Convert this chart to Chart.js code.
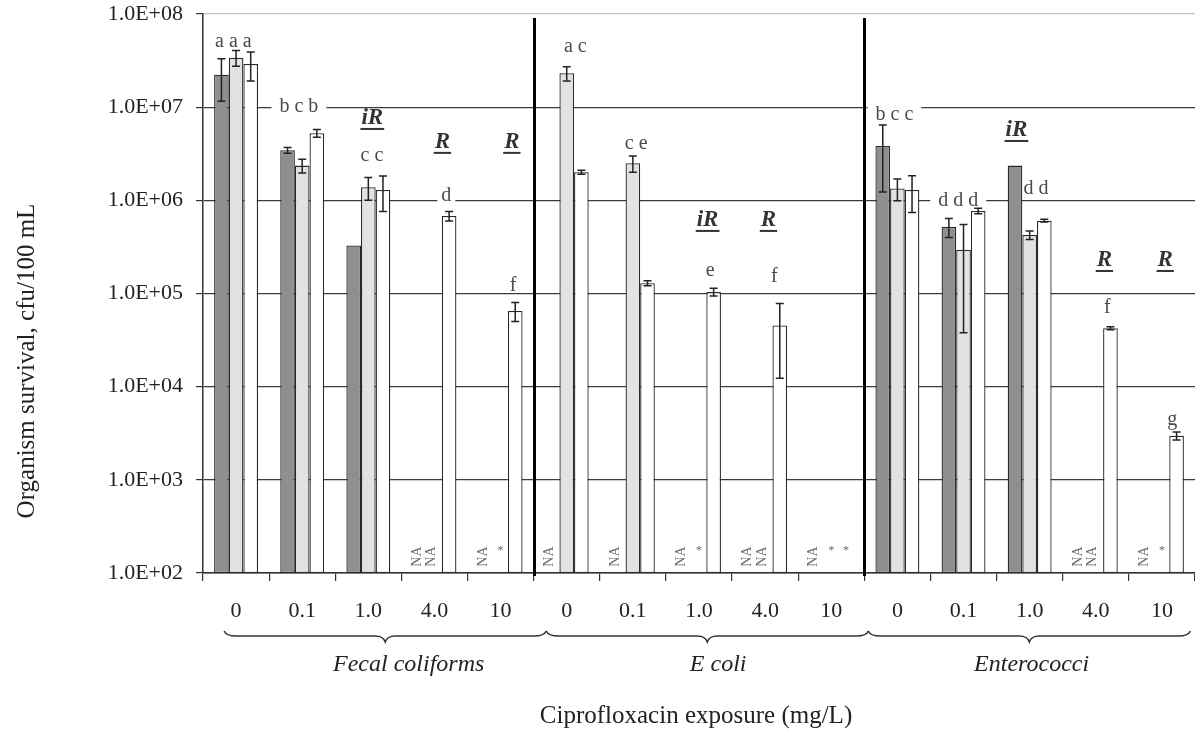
<!DOCTYPE html>
<html><head><meta charset="utf-8">
<script src="https://cdn.jsdelivr.net/npm/chart.js@4.4.1/dist/chart.umd.min.js"></script>
<style>html,body{margin:0;padding:0;background:#fff}#wrap{width:1195px;height:730px;position:relative}</style>
</head><body><div id="wrap"><canvas id="c"></canvas></div>
<script>
// ---- data ----
const categories = ['0','0.1','1.0','4.0','10','0','0.1','1.0','4.0','10','0','0.1','1.0','4.0','10'];
const groupNames = ['Fecal coliforms','E coli','Enterococci'];
const groupCenters = [2.61, 7.29, 12.03];            // category units
const braceRanges = [[-0.18, 4.69],[4.69, 9.56],[9.56, 14.43]];
const yTickValues = [1e2,1e3,1e4,1e5,1e6,1e7,1e8];

const seriesDark  = [2.23e7, 3.45e6, 3.27e5, null, null, null, null, null, null, null, 3.83e6, 5.19e5, 2.36e6, null, null];
const seriesLight = [3.40e7, 2.36e6, 1.38e6, null, null, 2.31e7, 2.50e6, null, null, null, 1.34e6, 2.95e5, 4.25e5, null, null];
const seriesWhite = [2.91e7, 5.25e6, 1.29e6, 6.8e5, 6.5e4, 2.0e6, 1.29e5, 1.04e5, 4.53e4, null, 1.29e6, 7.7e5, 6.05e5, 4.24e4, 2.97e3];

const errDark  = [1.07e7, 2.5e5, null, null, null, null, null, null, null, null, 2.6e6, 1.2e5, null, null, null];
const errLight = [6.5e6, 4.0e5, 3.8e5, null, null, 4.0e6, 5.0e5, null, null, null, 3.5e5, 2.57e5, 4.5e4, null, null];
const errWhite = [1.0e7, 5.0e5, 5.3e5, 8.0e4, 1.5e4, 1.0e5, 8.0e3, 1.0e4, 3.3e4, null, 5.5e5, 5.0e4, 2.0e4, 1.5e3, 3.0e2];

// NA / * markers: [category, bar index, text]
const naMarks = [[3,0,'NA'],[3,1,'NA'],[4,0,'NA'],[4,1,'*'],
                 [5,0,'NA'],[6,0,'NA'],[7,0,'NA'],[7,1,'*'],[8,0,'NA'],[8,1,'NA'],[9,0,'NA'],[9,1,'*'],[9,2,'*'],
                 [13,0,'NA'],[13,1,'NA'],[14,0,'NA'],[14,1,'*']];

// significance letters: [category + offset, y value, text, white background]
const letterNotes = [
  [-0.04, 5.0e7, 'a a a', false],
  [0.95, 1.0e7, 'b c b', true],
  [2.055, 3.0e6, 'c c', false],
  [3.18, 1.11e6, 'd', true],
  [4.19, 1.21e5, 'f', false],
  [5.13, 4.43e7, 'a c', false],
  [6.05, 4.03e6, 'c e', false],
  [7.17, 1.75e5, 'e', false],
  [8.14, 1.51e5, 'f', false],
  [9.955, 8.25e6, 'b c c', true],
  [10.92, 9.86e5, 'd d d', true],
  [12.095, 1.33e6, 'd d', false],
  [13.175, 7.0e4, 'f', false],
  [14.155, 4.4e3, 'g', false]
];
// resistance marks: [category + offset, y value, text]
const resistNotes = [
  [2.06, 7.66e6, 'iR'], [3.12, 4.24e6, 'R'], [4.17, 4.24e6, 'R'],
  [7.13, 6.16e5, 'iR'], [8.05, 6.16e5, 'R'],
  [11.8, 5.69e6, 'iR'], [13.13, 2.29e5, 'R'], [14.05, 2.29e5, 'R']
];

const SERIF = '"Liberation Serif", "DejaVu Serif", serif';
const CAT_PCT = 0.664;

function barX(chart, cat, bi) {
  const xs = chart.scales.x;
  const w = (xs.getPixelForValue(1) - xs.getPixelForValue(0)) * CAT_PCT / 3;
  return xs.getPixelForValue(cat) + (bi - 1) * w;
}

const overlay = {
  id: 'overlay',
  beforeDatasetsDraw(chart) {
    // white gaps in the grid lines behind the letters that sit on them
    const ctx = chart.ctx, xs = chart.scales.x, ys = chart.scales.y;
    ctx.save();
    ctx.font = '20px ' + SERIF;
    ctx.fillStyle = '#fff';
    letterNotes.forEach(([c, v, t, bg]) => {
      if (!bg) return;
      const x = xs.getPixelForValue(c), y = ys.getPixelForValue(v);
      const w = ctx.measureText(t).width;
      const pad = t.length > 1 ? 8 : 4;
      ctx.fillRect(x - w / 2 - pad, y - 12, w + 2 * pad, 24);
    });
    ctx.restore();
  },
  afterDatasetsDraw(chart) {
    const ctx = chart.ctx, xs = chart.scales.x, ys = chart.scales.y, area = chart.chartArea;
    const vals = [seriesDark, seriesLight, seriesWhite];
    const errs = [errDark, errLight, errWhite];
    ctx.save();
    // error bars
    ctx.strokeStyle = '#222'; ctx.lineWidth = 1.5;
    errs.forEach((arr, di) => {
      arr.forEach((e, j) => {
        const v = vals[di][j];
        if (e == null || v == null) return;
        const x = barX(chart, j, di);
        const y1 = ys.getPixelForValue(v + e);
        const y2 = ys.getPixelForValue(Math.max(v - e, 100));
        ctx.beginPath();
        ctx.moveTo(x, y1); ctx.lineTo(x, y2);
        ctx.moveTo(x - 4, y1); ctx.lineTo(x + 4, y1);
        ctx.moveTo(x - 4, y2); ctx.lineTo(x + 4, y2);
        ctx.stroke();
      });
    });
    // group dividers
    ctx.strokeStyle = '#000'; ctx.lineWidth = 3;
    [4.5, 9.5].forEach(b => {
      const x = Math.round(xs.getPixelForValue(b)) + 0.5;
      ctx.beginPath(); ctx.moveTo(x, area.top + 4); ctx.lineTo(x, area.bottom + 3); ctx.stroke();
    });
    // letters
    ctx.font = '20px ' + SERIF;
    ctx.textAlign = 'center'; ctx.textBaseline = 'middle';
    letterNotes.forEach(([c, v, t]) => {
      const x = xs.getPixelForValue(c), y = ys.getPixelForValue(v);
      ctx.fillStyle = '#4a4a4a';
      ctx.fillText(t, x, y);
    });
    // resistance marks
    ctx.font = 'italic bold 23px ' + SERIF;
    resistNotes.forEach(([c, v, t]) => {
      const x = xs.getPixelForValue(c), y = ys.getPixelForValue(v);
      ctx.fillStyle = '#333';
      ctx.fillText(t, x, y);
      const w = ctx.measureText(t).width;
      ctx.fillRect(x - w / 2 - 1, y + 10, w + 2, 2);
    });
    // NA markers
    naMarks.forEach(([c, bi, t]) => {
      const x = barX(chart, c, bi);
      ctx.fillStyle = '#6a6a6a';
      if (t === 'NA') {
        const y = ys.getPixelForValue(150);
        ctx.save(); ctx.translate(x - 3, y); ctx.rotate(-Math.PI / 2);
        ctx.font = '14px ' + SERIF; ctx.textAlign = 'center'; ctx.textBaseline = 'middle';
        ctx.fillText(t, 0, 0); ctx.restore();
      } else {
        const y = ys.getPixelForValue(175);
        ctx.font = '12px ' + SERIF;
        ctx.fillText(t, x, y);
      }
    });
    ctx.restore();
  },
  afterDraw(chart) {
    const ctx = chart.ctx, xs = chart.scales.x, area = chart.chartArea;
    ctx.save();
    // braces
    ctx.strokeStyle = '#333'; ctx.lineWidth = 1.5;
    braceRanges.forEach(([a, b]) => {
      const x1 = xs.getPixelForValue(a), x2 = xs.getPixelForValue(b);
      const y = 631, q = 5, h = 11, mid = (x1 + x2) / 2;
      ctx.beginPath();
      ctx.moveTo(x1, y);
      ctx.quadraticCurveTo(x1 + 2, y + q, x1 + 12, y + q);
      ctx.lineTo(mid - 10, y + q);
      ctx.quadraticCurveTo(mid - 2, y + q, mid, y + h);
      ctx.quadraticCurveTo(mid + 2, y + q, mid + 10, y + q);
      ctx.lineTo(x2 - 12, y + q);
      ctx.quadraticCurveTo(x2 - 2, y + q, x2, y);
      ctx.stroke();
    });
    // group names
    ctx.fillStyle = '#222';
    ctx.font = 'italic 24px ' + SERIF;
    ctx.textAlign = 'center'; ctx.textBaseline = 'middle';
    groupNames.forEach((g, i) => ctx.fillText(g, xs.getPixelForValue(groupCenters[i]), 665));
    // axis titles
    ctx.font = '25px ' + SERIF;
    ctx.fillText('Ciprofloxacin exposure (mg/L)', (area.left + area.right) / 2 - 3, 716);
    ctx.save(); ctx.translate(27, 361); ctx.rotate(-Math.PI / 2);
    ctx.fillText('Organism survival, cfu/100 mL', 0, 0);
    ctx.restore();
    ctx.restore();
  }
};

const common = { borderColor: '#2a2a2a', borderWidth: 1.3, borderSkipped: false,
                 categoryPercentage: CAT_PCT, barPercentage: 1.0 };

new Chart(document.getElementById('c'), {
  type: 'bar',
  data: {
    labels: categories,
    datasets: [
      Object.assign({ label: 'Series 1', data: seriesDark,  backgroundColor: '#8f8f8f' }, common),
      Object.assign({ label: 'Series 2', data: seriesLight, backgroundColor: '#e2e2e2' }, common),
      Object.assign({ label: 'Series 3', data: seriesWhite, backgroundColor: '#ffffff' }, common)
    ]
  },
  options: {
    responsive: true, maintainAspectRatio: false, devicePixelRatio: 1, animation: false,
    layout: { padding: { top: 14, right: 0, bottom: 0, left: 0 } },
    plugins: { legend: { display: false }, tooltip: { enabled: false } },
    scales: {
      x: {
        offset: true,
        grid: { display: true, drawOnChartArea: false, offset: true, tickLength: 8, color: '#333', lineWidth: 1.2 },
        border: { display: true, color: '#333', width: 1.5 },
        ticks: { autoSkip: false, maxRotation: 0, padding: 17, color: '#222', font: { family: SERIF, size: 22 } },
        afterFit(s) { s.height = 157; s.paddingLeft = 0; s.paddingRight = 0; }
      },
      y: {
        type: 'logarithmic', min: 100, max: 1e8,
        afterBuildTicks(s) { s.ticks = yTickValues.map(v => ({ value: v, major: false })); },
        grid: { color: c => (c.tick && c.tick.value === 1e8) ? '#c4c4c4' : '#3c3c3c', lineWidth: 1.2, tickLength: 7, tickColor: '#333' },
        border: { display: true, color: '#333', width: 1.5 },
        ticks: { padding: 13, color: '#222', font: { family: SERIF, size: 22 },
                 callback: v => { const e = Math.round(Math.log10(v)); return '1.0E+' + (e < 10 ? '0' + e : e); } },
        afterFit(s) { s.width = 203; s.paddingTop = 0; s.paddingBottom = 0; }
      }
    }
  },
  plugins: [overlay]
});
</script>
</body></html>
